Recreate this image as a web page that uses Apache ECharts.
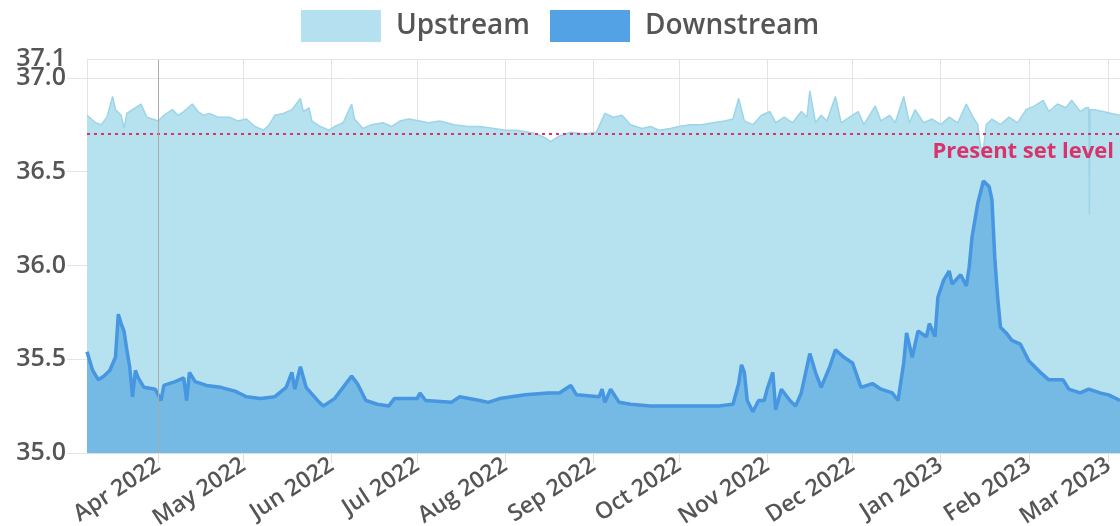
<!DOCTYPE html>
<html>
<head>
<meta charset="utf-8">
<script src="https://cdn.jsdelivr.net/npm/echarts@6/dist/echarts.min.js"></script>
<style>
  html, body { margin: 0; padding: 0; background: #fff; }
  #chart { width: 1120px; height: 526px; }
</style>
</head>
<body>
<div id="chart"></div>
<script>
// series names
const seriesNames = ['Upstream', 'Downstream'];

// upstream level
const upstreamDates = [
  '2022-03-07', '2022-03-10', '2022-03-12', '2022-03-14', '2022-03-16', '2022-03-17', '2022-03-19', '2022-03-20',
  '2022-03-21', '2022-03-23', '2022-03-26', '2022-03-28', '2022-03-30', '2022-04-01', '2022-04-03', '2022-04-06',
  '2022-04-08', '2022-04-10', '2022-04-13', '2022-04-15', '2022-04-17', '2022-04-19', '2022-04-22', '2022-04-26',
  '2022-04-29', '2022-05-02', '2022-05-05', '2022-05-08', '2022-05-10', '2022-05-12', '2022-05-15', '2022-05-18',
  '2022-05-21', '2022-05-22', '2022-05-24', '2022-05-25', '2022-05-28', '2022-05-31', '2022-06-02', '2022-06-05',
  '2022-06-08', '2022-06-09', '2022-06-12', '2022-06-15', '2022-06-19', '2022-06-22', '2022-06-25', '2022-06-28',
  '2022-07-02', '2022-07-05', '2022-07-09', '2022-07-14', '2022-07-19', '2022-07-23', '2022-07-28', '2022-08-01',
  '2022-08-05', '2022-08-09', '2022-08-12', '2022-08-15', '2022-08-17', '2022-08-20', '2022-08-24', '2022-08-29',
  '2022-09-02', '2022-09-05', '2022-09-08', '2022-09-11', '2022-09-14', '2022-09-18', '2022-09-21', '2022-09-24',
  '2022-09-28', '2022-10-01', '2022-10-05', '2022-10-09', '2022-10-13', '2022-10-17', '2022-10-20', '2022-10-22',
  '2022-10-24', '2022-10-27', '2022-10-30', '2022-11-02', '2022-11-04', '2022-11-07', '2022-11-10', '2022-11-13',
  '2022-11-15', '2022-11-16', '2022-11-18', '2022-11-20', '2022-11-22', '2022-11-25', '2022-11-27', '2022-11-30',
  '2022-12-03', '2022-12-05', '2022-12-09', '2022-12-11', '2022-12-14', '2022-12-16', '2022-12-19', '2022-12-21',
  '2022-12-23', '2022-12-26', '2022-12-29', '2023-01-01', '2023-01-04', '2023-01-07', '2023-01-10', '2023-01-12',
  '2023-01-14', '2023-01-15', '2023-01-16', '2023-01-17', '2023-01-19', '2023-01-22', '2023-01-25', '2023-01-28',
  '2023-01-31', '2023-02-03', '2023-02-06', '2023-02-08', '2023-02-11', '2023-02-14', '2023-02-16', '2023-02-19',
  '2023-02-21', '2023-02-22 00:00', '2023-02-22 06:00', '2023-02-22 12:00', '2023-02-24', '2023-02-27', '2023-03-02', '2023-03-05'
];
const upstreamValues = [
  36.80, 36.76, 36.75, 36.79, 36.90, 36.83, 36.80, 36.73,
  36.81, 36.83, 36.86, 36.79, 36.78, 36.77, 36.80, 36.83,
  36.80, 36.82, 36.86, 36.82, 36.80, 36.81, 36.79, 36.79,
  36.77, 36.78, 36.74, 36.72, 36.75, 36.80, 36.81, 36.83,
  36.89, 36.82, 36.84, 36.77, 36.74, 36.72, 36.74, 36.76,
  36.86, 36.78, 36.73, 36.75, 36.76, 36.74, 36.77, 36.78,
  36.77, 36.76, 36.77, 36.75, 36.74, 36.74, 36.73, 36.72,
  36.72, 36.71, 36.70, 36.68, 36.66, 36.69, 36.71, 36.70,
  36.71, 36.81, 36.79, 36.80, 36.75, 36.73, 36.74, 36.72,
  36.73, 36.74, 36.75, 36.75, 36.76, 36.77, 36.78, 36.89,
  36.77, 36.75, 36.80, 36.82, 36.76, 36.79, 36.76, 36.82,
  36.79, 36.93, 36.76, 36.80, 36.77, 36.90, 36.76, 36.79,
  36.82, 36.75, 36.85, 36.77, 36.80, 36.76, 36.90, 36.76,
  36.83, 36.76, 36.78, 36.75, 36.79, 36.76, 36.86, 36.80,
  36.75, 36.63, 36.62, 36.75, 36.78, 36.75, 36.79, 36.76,
  36.83, 36.85, 36.88, 36.82, 36.86, 36.84, 36.88, 36.82,
  36.84, 36.84, 36.27, 36.83, 36.83, 36.82, 36.81, 36.80
];

// downstream level
const downstreamDates = [
  '2022-03-07', '2022-03-09', '2022-03-11', '2022-03-13', '2022-03-15', '2022-03-17', '2022-03-18', '2022-03-19',
  '2022-03-20', '2022-03-21', '2022-03-22', '2022-03-23', '2022-03-24', '2022-03-25', '2022-03-27', '2022-03-31',
  '2022-04-02', '2022-04-03', '2022-04-07', '2022-04-10', '2022-04-11', '2022-04-12', '2022-04-14', '2022-04-18',
  '2022-04-23', '2022-04-28', '2022-05-02', '2022-05-07', '2022-05-12', '2022-05-16', '2022-05-18', '2022-05-19',
  '2022-05-21', '2022-05-23', '2022-05-27', '2022-05-29', '2022-06-02', '2022-06-05', '2022-06-08', '2022-06-10',
  '2022-06-13', '2022-06-17', '2022-06-21', '2022-06-23', '2022-06-27', '2022-07-01', '2022-07-02', '2022-07-04',
  '2022-07-13', '2022-07-16', '2022-07-23', '2022-07-26', '2022-07-30', '2022-08-08', '2022-08-16', '2022-08-20',
  '2022-08-24', '2022-08-26', '2022-09-03', '2022-09-04', '2022-09-05', '2022-09-07', '2022-09-10', '2022-09-14',
  '2022-09-21', '2022-10-03', '2022-10-15', '2022-10-20', '2022-10-22', '2022-10-23', '2022-10-24', '2022-10-25',
  '2022-10-27', '2022-10-29', '2022-10-31', '2022-11-01', '2022-11-03', '2022-11-04', '2022-11-06', '2022-11-09',
  '2022-11-11', '2022-11-13', '2022-11-16', '2022-11-18', '2022-11-20', '2022-11-23', '2022-11-25', '2022-11-28',
  '2022-12-01', '2022-12-04', '2022-12-08', '2022-12-11', '2022-12-15', '2022-12-17', '2022-12-19', '2022-12-20',
  '2022-12-22', '2022-12-24', '2022-12-27', '2022-12-28', '2022-12-30', '2022-12-31', '2023-01-02', '2023-01-04',
  '2023-01-05', '2023-01-08', '2023-01-10', '2023-01-11', '2023-01-12', '2023-01-14', '2023-01-16', '2023-01-18',
  '2023-01-19', '2023-01-20', '2023-01-21', '2023-01-22', '2023-01-24', '2023-01-26', '2023-01-29', '2023-02-01',
  '2023-02-05', '2023-02-08', '2023-02-13', '2023-02-15', '2023-02-19', '2023-02-22', '2023-02-26', '2023-03-01',
  '2023-03-05'
];
const downstreamValues = [
  35.54, 35.44, 35.39, 35.41, 35.44, 35.51, 35.74, 35.69,
  35.65, 35.55, 35.46, 35.30, 35.44, 35.40, 35.35, 35.34,
  35.28, 35.36, 35.38, 35.40, 35.28, 35.43, 35.38, 35.36,
  35.35, 35.33, 35.30, 35.29, 35.30, 35.35, 35.43, 35.34,
  35.46, 35.35, 35.28, 35.25, 35.29, 35.35, 35.41, 35.37,
  35.28, 35.26, 35.25, 35.29, 35.29, 35.29, 35.32, 35.28,
  35.27, 35.30, 35.28, 35.27, 35.29, 35.31, 35.32, 35.32,
  35.36, 35.31, 35.30, 35.34, 35.27, 35.34, 35.27, 35.26,
  35.25, 35.25, 35.25, 35.26, 35.37, 35.47, 35.43, 35.28,
  35.22, 35.28, 35.28, 35.34, 35.43, 35.23, 35.34, 35.28,
  35.25, 35.32, 35.53, 35.43, 35.35, 35.46, 35.55, 35.51,
  35.48, 35.35, 35.37, 35.34, 35.32, 35.28, 35.48, 35.64,
  35.51, 35.65, 35.62, 35.69, 35.62, 35.83, 35.92, 35.97,
  35.90, 35.95, 35.89, 35.99, 36.15, 36.33, 36.45, 36.42,
  36.35, 36.04, 35.83, 35.67, 35.64, 35.60, 35.58, 35.49,
  35.43, 35.39, 35.39, 35.34, 35.32, 35.34, 35.32, 35.31,
  35.28
];

// reference line
const setLevel = 36.7;
const setLevelLabel = 'Present set level';

// y axis range
const yMin = 35.0;
const yMax = 37.1;
const yStep = 0.5;

// darker marker line in the picture
const markerDate = '2022-04-01';

const zip = (dates, values) => dates.map((d, i) => [d, values[i]]);

const chart = echarts.init(document.getElementById('chart'), null, { renderer: 'canvas' });

const fontFamily = '"Open Sans", Roboto, sans-serif';
const textGray = '#555';
const gridGray = '#e4e4e4';
const yLabelStyle = { color: textGray, fontSize: 25, fontWeight: 600, fontFamily };

chart.setOption({
  animation: false,
  textStyle: { fontFamily },
  legend: {
    top: 5,
    left: 'center',
    icon: 'rect',
    itemWidth: 80,
    itemHeight: 32,
    itemGap: 20,
    data: seriesNames,
    textStyle: { color: textGray, fontSize: 28, fontWeight: 600, padding: [0, 0, 0, 10] },
  },
  grid: { left: 87, right: 0, top: 59, bottom: 73, containLabel: false, outerBoundsMode: 'none' },
  xAxis: {
    type: 'time',
    min: '2022-03-07',
    max: '2023-03-05',
    splitNumber: 12,
    minInterval: 28 * 86400000,
    axisLine: { lineStyle: { color: '#ddd' } },
    axisTick: { show: true, length: 10, lineStyle: { color: '#ddd' } },
    splitLine: { show: true, lineStyle: { color: gridGray } },
    axisLabel: {
      rotate: 33,
      color: textGray,
      fontSize: 23,
      fontWeight: 600,
      margin: 10,
      formatter: (val) => echarts.time.format(val, '{MMM} {yyyy}', false),
    },
  },
  yAxis: {
    type: 'value',
    min: yMin,
    max: yMax,
    interval: yStep,
    axisLine: { show: false },
    axisTick: { show: true, length: 20, lineStyle: { color: gridGray } },
    splitLine: { show: true, lineStyle: { color: gridGray } },
    axisLabel: Object.assign({ margin: 21, formatter: (v) => v.toFixed(1) }, yLabelStyle),
  },
  series: [
    {
      name: seriesNames[0],
      type: 'line',
      data: zip(upstreamDates, upstreamValues),
      showSymbol: false,
      itemStyle: { color: '#b4e0ef' },
      lineStyle: { color: '#9dd5e8', width: 1.5 },
      areaStyle: { color: '#b6e1ef', opacity: 1 },
      markLine: {
        silent: true,
        symbol: 'none',
        lineStyle: { color: '#d8336b', type: [3, 4], width: 2 },
        label: {
          show: true,
          position: 'insideEndBottom',
          formatter: setLevelLabel,
          color: '#d8336b',
          fontSize: 22,
          fontWeight: 'bold',
          distance: [6, 7],
        },
        data: [{ yAxis: setLevel }],
      },
    },
    {
      name: seriesNames[1],
      type: 'line',
      data: zip(downstreamDates, downstreamValues),
      showSymbol: false,
      itemStyle: { color: '#54a2e6' },
      lineStyle: { color: '#4696e2', width: 3.5 },
      areaStyle: { color: '#75b9e5', opacity: 1 },
      markLine: {
        silent: true,
        symbol: 'none',
        data: [
          { xAxis: markerDate, label: { show: false }, lineStyle: { color: '#aaa', type: 'solid', width: 1 } },
          {
            yAxis: yMax,
            lineStyle: { color: gridGray, type: 'solid', width: 1 },
            label: Object.assign({ show: true, position: 'start', distance: 21, formatter: yMax.toFixed(1) }, yLabelStyle),
          },
        ],
      },
    },
  ],
});
</script>
</body>
</html>
